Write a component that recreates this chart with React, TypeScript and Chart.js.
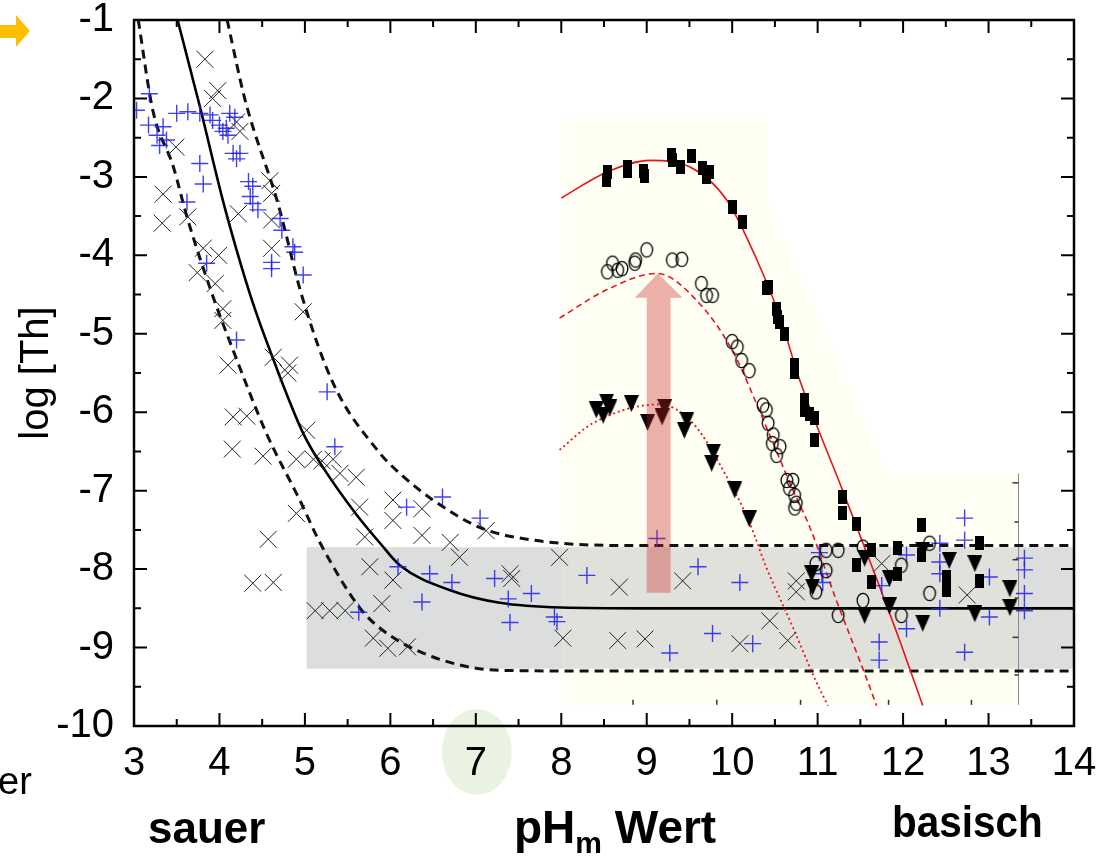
import React, { useEffect, useRef } from "react";
import { Chart, registerables } from "chart.js";
Chart.register(...registerables);

type P = [number, number];

const X_MIN = 3, X_MAX = 14, Y_MIN = -10, Y_MAX = -1;
const FONT = '"Liberation Sans", Arial, sans-serif';

// fitted curves
const acidFit: P[] = [[3.51,-1.0],[3.77,-2.1],[4.04,-3.3],[4.2,-3.93],[4.38,-4.57],[4.59,-5.21],[4.98,-6.27],[5.21,-6.7],[5.6,-7.3],[5.88,-7.67],[6.11,-7.95],[6.7,-8.27],[7.28,-8.43],[8.0,-8.49],[9,-8.5],[14,-8.5]];
const upperBound: P[] = [[4.09,-1.0],[4.3,-2.02],[4.69,-3.36],[4.96,-4.5],[5.33,-5.63],[5.86,-6.5],[6.11,-6.78],[6.5,-7.12],[7.05,-7.47],[7.67,-7.63],[8.84,-7.7],[14,-7.7]];
const lowerBound: P[] = [[3.05,-1.0],[3.22,-2.15],[3.46,-2.87],[3.62,-3.51],[3.9,-4.45],[4.16,-5.21],[4.55,-6.27],[4.94,-7.12],[5.18,-7.67],[5.64,-8.49],[5.91,-8.78],[6.5,-9.12],[7.28,-9.29],[8.5,-9.3],[14,-9.3]];
const redSolid: P[] = [[8.0,-3.27],[8.53,-2.94],[9.04,-2.79],[9.5,-2.87],[9.94,-3.3],[10.29,-4.06],[10.56,-4.79],[10.79,-5.59],[11.29,-6.99],[11.64,-7.98],[11.96,-8.91],[12.23,-9.74]];
const redDashed: P[] = [[7.98,-4.8],[8.53,-4.44],[9.12,-4.23],[9.58,-4.57],[10.0,-5.21],[10.4,-6.19],[10.71,-6.99],[10.91,-7.47],[11.22,-8.4],[11.55,-9.33],[11.69,-9.74]];
const redDotted: P[] = [[7.98,-6.48],[8.37,-6.14],[9.15,-5.9],[9.54,-6.14],[9.94,-6.83],[10.2,-7.4],[10.4,-7.98],[10.71,-8.74],[10.96,-9.38],[11.12,-9.74]];

// measurements
const blackCross: P[] = [[3.83,-1.5],[3.98,-1.9],[3.92,-2.0],[4.2,-2.3],[4.24,-2.42],[3.49,-2.62],[3.34,-3.22],[3.33,-3.59],[4.59,-3.05],[4.61,-3.21],[4.22,-3.47],[4.61,-3.55],[3.63,-3.51],[3.81,-3.91],[3.99,-4.0],[4.61,-3.91],[3.74,-4.22],[3.95,-4.36],[4.04,-4.68],[4.04,-4.83],[4.1,-5.4],[4.98,-4.72],[4.63,-5.3],[4.82,-5.4],[4.8,-5.5],[4.16,-6.06],[4.32,-6.05],[4.15,-6.47],[4.51,-6.56],[5.02,-6.23],[4.9,-6.6],[5.1,-6.6],[5.2,-6.62],[5.33,-6.6],[5.41,-6.78],[5.6,-6.83],[4.9,-7.29],[4.57,-7.62],[5.64,-7.21],[5.7,-7.59],[6.03,-7.12],[6.03,-7.38],[4.39,-8.18],[4.63,-8.17],[5.12,-8.53],[5.29,-8.53],[5.47,-8.53],[5.76,-7.97],[5.9,-8.44],[6.03,-8.14],[6.37,-7.23],[6.37,-7.57],[6.7,-7.66],[6.81,-7.85],[7.12,-7.51],[7.4,-8.06],[7.42,-8.12],[7.98,-7.85],[5.8,-8.88],[5.97,-9.01],[6.2,-8.99],[8.02,-8.88],[8.68,-8.23],[8.66,-8.91],[8.98,-8.89],[9.42,-8.15],[10.75,-8.15],[10.75,-8.29],[10.44,-8.66],[10.09,-8.95],[10.65,-8.91],[11.75,-7.93],[12.75,-8.33]];
const bluePlus: P[] = [[3.18,-1.94],[3.03,-2.15],[3.17,-2.34],[3.34,-2.36],[3.27,-2.47],[3.38,-2.53],[3.3,-2.6],[3.5,-2.19],[3.63,-2.17],[3.77,-2.19],[3.89,-2.21],[3.92,-2.28],[4.0,-2.34],[4.12,-2.19],[4.18,-2.24],[4.08,-2.38],[4.04,-2.42],[4.1,-2.47],[4.16,-2.7],[4.24,-2.7],[4.2,-2.77],[3.77,-2.83],[3.81,-3.09],[3.62,-3.32],[4.34,-3.06],[4.39,-3.12],[4.36,-3.25],[4.39,-3.34],[4.45,-3.42],[4.71,-3.53],[4.73,-3.68],[4.86,-3.89],[4.88,-3.96],[4.61,-4.09],[4.98,-4.25],[3.85,-4.1],[4.61,-4.17],[4.2,-5.08],[5.26,-5.74],[5.35,-6.44],[6.19,-7.21],[6.61,-7.08],[7.05,-7.35],[6.09,-7.97],[6.46,-8.06],[6.72,-8.17],[6.37,-8.42],[5.63,-8.55],[7.22,-8.12],[7.38,-8.38],[7.4,-8.68],[7.65,-8.31],[7.92,-8.61],[7.95,-8.67],[8.3,-8.08],[9.12,-7.61],[9.27,-9.07],[9.6,-7.97],[10.09,-8.17],[9.77,-8.82],[10.24,-8.95],[11.02,-7.79],[11.05,-8.06],[11.06,-8.17],[11.75,-8.21],[11.72,-8.93],[11.72,-9.16],[12.04,-7.82],[12.04,-8.76],[12.43,-7.67],[12.43,-7.91],[12.43,-8.06],[12.43,-8.5],[12.72,-7.35],[12.72,-7.63],[12.72,-9.06],[13.01,-8.1],[13.01,-8.61],[13.42,-7.86],[13.42,-8.01],[13.42,-8.31],[13.42,-8.53]];
const squares: P[] = [[8.54,-2.94],[8.53,-3.04],[8.77,-2.87],[8.77,-2.93],[8.96,-2.92],[8.97,-2.99],[9.29,-2.72],[9.3,-2.79],[9.39,-2.87],[9.52,-2.74],[9.65,-2.89],[9.7,-3.0],[9.74,-2.94],[10.0,-3.38],[10.12,-3.58],[10.4,-4.42],[10.42,-4.4],[10.52,-4.68],[10.53,-4.79],[10.55,-4.85],[10.61,-5.0],[10.73,-5.4],[10.73,-5.49],[10.85,-5.85],[10.85,-5.97],[10.91,-6.02],[10.96,-6.08],[10.96,-6.36],[11.29,-7.08],[11.29,-7.29],[11.45,-7.42],[11.63,-7.76],[11.45,-7.95],[11.63,-8.17],[11.94,-7.73],[11.94,-8.06],[12.21,-7.44],[12.21,-7.82],[12.51,-8.1],[12.51,-8.27],[12.89,-7.67],[12.89,-8.15]];
const circles: P[] = [[8.54,-4.21],[8.6,-4.1],[8.66,-4.19],[8.71,-4.17],[8.86,-4.1],[8.87,-4.06],[9.0,-3.93],[9.3,-4.06],[9.41,-4.05],[9.64,-4.36],[9.7,-4.51],[9.77,-4.51],[10.0,-5.1],[10.06,-5.17],[10.11,-5.34],[10.2,-5.47],[10.36,-5.91],[10.4,-5.97],[10.42,-6.14],[10.48,-6.29],[10.47,-6.4],[10.56,-6.44],[10.52,-6.55],[10.64,-6.87],[10.71,-6.87],[10.67,-6.97],[10.73,-7.06],[10.75,-7.16],[10.73,-7.22],[11.1,-7.76],[11.24,-7.76],[10.98,-7.93],[11.1,-8.02],[10.98,-8.29],[11.24,-8.59],[11.53,-7.72],[11.53,-8.4],[11.98,-7.95],[11.98,-8.59],[12.31,-7.67],[12.31,-8.31]];
const triangles: P[] = [[8.41,-5.97],[8.49,-6.04],[8.53,-5.87],[8.57,-5.94],[8.82,-5.89],[9.01,-6.13],[9.18,-6.06],[9.21,-5.94],[9.47,-6.1],[9.44,-6.23],[9.78,-6.51],[9.76,-6.65],[10.03,-6.99],[10.2,-7.36],[10.93,-8.06],[10.94,-8.23],[11.55,-7.86],[11.84,-8.12],[11.55,-8.59],[11.84,-8.47],[12.23,-7.76],[12.23,-8.69],[12.54,-7.89],[12.84,-7.93],[12.84,-8.57],[13.25,-8.25],[13.25,-8.49]];

// decoration geometry in data units
const insetPoly: P[] = [[8.01,-2.26],[10.41,-2.26],[10.41,-3.33],[11.82,-6.78],[13.35,-6.78],[13.35,-9.73],[8.01,-9.73]];
const insetYTicks = [-6.9, -7.4, -7.88, -8.37, -8.87, -9.35];
const insetXTicks = [8.84, 9.82, 10.8, 11.83, 12.8];
const bandX: P = [5.02, 14];
const bandY: P = [-7.72, -9.27];
const arrowX = { shaftL: 9.0, shaftR: 9.28, headL: 8.86, headR: 9.42, tip: 9.13 };
const arrowY = { tip: -4.23, headBase: -4.54, bottom: -8.3 };

const toXY = (a: P[]) => a.map(([x, y]) => ({ x, y }));

function makeCanvas(w: number, h: number, draw: (c: CanvasRenderingContext2D) => void) {
  const c = document.createElement("canvas");
  c.width = w; c.height = h;
  const g = c.getContext("2d")!;
  draw(g);
  return c;
}

const decor = {
  id: "decor",
  beforeDraw(chart: any) {
    const { ctx } = chart;
    const xs = chart.scales.x;
    ctx.save();
    ctx.fillStyle = "#ffffff";
    ctx.fillRect(0, 0, chart.width, chart.height);
    ctx.fillStyle = "rgb(234,243,225)";
    ctx.beginPath();
    ctx.ellipse(xs.getPixelForValue(7) + 1, 752, 35, 43, 0, 0, Math.PI * 2);
    ctx.fill();
    // orange arrow
    ctx.fillStyle = "rgb(255,190,0)";
    ctx.beginPath();
    ctx.moveTo(0, 25); ctx.lineTo(16, 25); ctx.lineTo(16, 15); ctx.lineTo(30, 31);
    ctx.lineTo(16, 47); ctx.lineTo(16, 38); ctx.lineTo(0, 38); ctx.closePath();
    ctx.fill();
    ctx.restore();
  },
  beforeDatasetsDraw(chart: any) {
    const { ctx } = chart;
    const xs = chart.scales.x, ys = chart.scales.y;
    const px = (v: number) => xs.getPixelForValue(v);
    const py = (v: number) => ys.getPixelForValue(v);
    ctx.save();
    ctx.fillStyle = "rgb(255,255,243)";
    ctx.beginPath();
    insetPoly.forEach(([x, y], i) => (i ? ctx.lineTo(px(x), py(y)) : ctx.moveTo(px(x), py(y))));
    ctx.closePath();
    ctx.fill();
    const t = py(bandY[0]), b = py(bandY[1]);
    ctx.fillStyle = "rgb(220,222,221)";
    ctx.fillRect(px(bandX[0]), t, px(insetPoly[0][0]) - px(bandX[0]), b - t);
    ctx.fillRect(px(insetPoly[4][0]), t, px(bandX[1]) - px(insetPoly[4][0]), b - t);
    ctx.fillStyle = "rgb(224,225,219)";
    ctx.fillRect(px(insetPoly[0][0]), t, px(insetPoly[4][0]) - px(insetPoly[0][0]), b - t);
    // inset right edge
    ctx.strokeStyle = "#8a8a8a";
    ctx.lineWidth = 1;
    const ex = Math.round(px(insetPoly[4][0])) + 0.5;
    ctx.beginPath();
    ctx.moveTo(ex, py(insetPoly[4][1]));
    ctx.lineTo(ex, py(insetPoly[5][1]));
    ctx.stroke();
    ctx.strokeStyle = "#333";
    ctx.lineWidth = 1.5;
    insetYTicks.forEach((v, i) => {
      const y = py(v);
      ctx.beginPath();
      ctx.moveTo(ex, y);
      ctx.lineTo(ex - (i % 2 === 0 ? 6 : 4), y);
      ctx.stroke();
    });
    const eb = py(insetPoly[5][1]);
    insetXTicks.forEach((v) => {
      const x = px(v);
      ctx.beginPath();
      ctx.moveTo(x, eb);
      ctx.lineTo(x, eb - 5);
      ctx.stroke();
    });
    ctx.restore();
  },
  afterDatasetsDraw(chart: any) {
    const { ctx, chartArea: ca } = chart;
    const xs = chart.scales.x, ys = chart.scales.y;
    const px = (v: number) => xs.getPixelForValue(v);
    const py = (v: number) => ys.getPixelForValue(v);
    ctx.save();
    // pink arrow
    ctx.fillStyle = "rgba(200,40,40,0.36)";
    ctx.beginPath();
    ctx.moveTo(px(arrowX.shaftL), py(arrowY.bottom));
    ctx.lineTo(px(arrowX.shaftL), py(arrowY.headBase));
    ctx.lineTo(px(arrowX.headL), py(arrowY.headBase));
    ctx.lineTo(px(arrowX.tip), py(arrowY.tip));
    ctx.lineTo(px(arrowX.headR), py(arrowY.headBase));
    ctx.lineTo(px(arrowX.shaftR), py(arrowY.headBase));
    ctx.lineTo(px(arrowX.shaftR), py(arrowY.bottom));
    ctx.closePath();
    ctx.fill();
    // frame and inward ticks
    ctx.strokeStyle = "#000";
    ctx.lineWidth = 2.5;
    ctx.strokeRect(ca.left, ca.top, ca.right - ca.left, ca.bottom - ca.top);
    ctx.lineWidth = 2;
    for (let v = X_MIN; v <= X_MAX + 1e-9; v += 0.5) {
      const x = px(v);
      const len = Number.isInteger(v) ? 13 : 7;
      ctx.beginPath();
      ctx.moveTo(x, ca.bottom); ctx.lineTo(x, ca.bottom - len);
      ctx.moveTo(x, ca.top); ctx.lineTo(x, ca.top + len);
      ctx.stroke();
    }
    for (let v = Y_MIN; v <= Y_MAX + 1e-9; v += 0.5) {
      const y = py(v);
      const len = Number.isInteger(v) ? 13 : 7;
      ctx.beginPath();
      ctx.moveTo(ca.left, y); ctx.lineTo(ca.left + len, y);
      ctx.moveTo(ca.right, y); ctx.lineTo(ca.right - len, y);
      ctx.stroke();
    }
    ctx.restore();
  },
};

export default function App() {
  const ref = useRef<HTMLCanvasElement>(null);
  useEffect(() => {
    const sq = makeCanvas(9, 14, (g) => { g.fillStyle = "#000"; g.fillRect(0, 0, 9, 14); });
    const circ = makeCanvas(16, 19, (g) => {
      g.strokeStyle = "#000"; g.lineWidth = 1.3;
      g.beginPath(); g.ellipse(8, 9.5, 5.8, 7.2, 0, 0, Math.PI * 2); g.stroke();
    });
    const tri = makeCanvas(15, 17, (g) => {
      g.fillStyle = "#000";
      g.beginPath(); g.moveTo(0, 0); g.lineTo(15, 0); g.lineTo(7.5, 17); g.closePath(); g.fill();
    });
    const line = (data: P[], color: string, width: number, dash: number[]) => ({
      type: "line" as const,
      data: toXY(data),
      borderColor: color,
      borderWidth: width,
      borderDash: dash,
      pointRadius: 0,
      showLine: true,
      fill: false,
      cubicInterpolationMode: "monotone" as const,
    });
    const pts = (data: P[], style: any, color: string, r: number, bw: number) => ({
      type: "scatter" as const,
      data: toXY(data),
      pointStyle: style,
      pointRadius: r,
      borderColor: color,
      backgroundColor: color,
      pointBorderWidth: bw,
      borderWidth: bw,
      showLine: false,
    });
    const chart = new Chart(ref.current!, {
      type: "scatter",
      data: {
        datasets: [
          pts(squares, sq, "#000", 6, 1),
          pts(circles, circ, "#000", 6, 1),
          pts(triangles, tri, "#000", 7, 1),
          pts(bluePlus, "cross", "rgba(30,30,235,0.85)", 8.5, 1.4),
          pts(blackCross, "crossRot", "#222", 12, 1),
          line(redSolid, "#e8141b", 1.6, []),
          line(redDashed, "#e8141b", 1.6, [6, 4]),
          line(redDotted, "#e8141b", 1.8, [2, 3]),
          line(acidFit, "#000", 2.6, []),
          line(upperBound, "#111", 3, [9, 6]),
          line(lowerBound, "#111", 3, [9, 6]),
        ] as any,
      },
      options: {
        animation: false,
        responsive: false,
        layout: { padding: { top: 20, right: 25, left: 0, bottom: 0 } },
        plugins: { legend: { display: false }, tooltip: { enabled: false } },
        scales: {
          x: {
            type: "linear",
            min: X_MIN,
            max: X_MAX,
            afterFit: (s: any) => { s.height = 130; s.paddingLeft = 0; s.paddingRight = 0; },
            grid: { display: false },
            border: { display: false },
            ticks: { stepSize: 1, padding: 10, color: "#000", font: { family: FONT, size: 40, lineHeight: 1 }, maxRotation: 0, autoSkip: false },
          },
          y: {
            type: "linear",
            min: Y_MIN,
            max: Y_MAX,
            afterFit: (s: any) => { s.width = 134; s.paddingTop = 0; s.paddingBottom = 0; },
            grid: { display: false },
            border: { display: false },
            ticks: { stepSize: 1, padding: 12, color: "#000", font: { family: FONT, size: 40, lineHeight: 1 }, autoSkip: false },
            title: { display: true, text: "log [Th]", color: "#000", font: { family: FONT, size: 40, lineHeight: 1 }, padding: { top: 17, bottom: 0 } },
          },
        },
      } as any,
      plugins: [decor],
    });
    return () => chart.destroy();
  }, []);

  const bold: React.CSSProperties = { position: "absolute", fontFamily: FONT, fontWeight: "bold", fontSize: 44, lineHeight: 1, whiteSpace: "nowrap", color: "#000", transformOrigin: "0 0" };
  return (
    <div style={{ position: "absolute", left: 0, top: 0, width: 1099, height: 856, overflow: "hidden", background: "#fff" }}>
      <canvas ref={ref} width={1099} height={856} style={{ position: "absolute", left: 0, top: 0, width: 1099, height: 856 }} />
      <div style={{ ...bold, left: 148, top: 806 }}>sauer</div>
      <div style={{ ...bold, left: 514, top: 804, fontSize: 46 }}>
        pH<sub style={{ fontSize: 30, verticalAlign: "-10px" }}>m</sub> Wert
      </div>
      <div style={{ ...bold, left: 892, top: 800, transform: "scaleX(0.92)" }}>basisch</div>
      <div style={{ position: "absolute", left: -2, top: 762, fontFamily: FONT, fontSize: 38, lineHeight: 1 }}>er</div>
    </div>
  );
}
